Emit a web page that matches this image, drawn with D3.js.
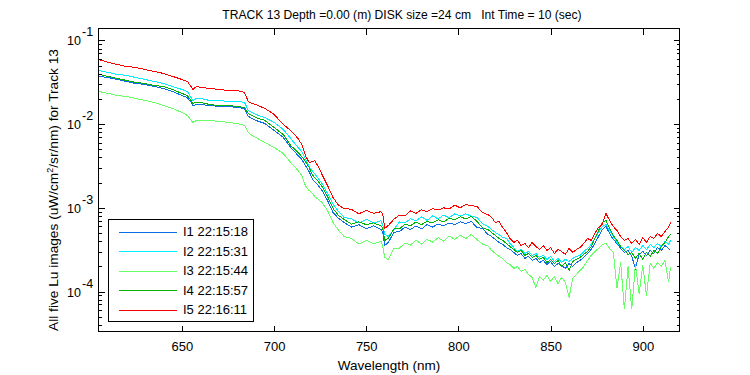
<!DOCTYPE html>
<html><head><meta charset="utf-8">
<script src="https://cdn.jsdelivr.net/npm/d3@7"></script>
<style>body{margin:0;background:#fff}svg text{font-family:"Liberation Sans",Arial,sans-serif;fill:#000}</style>
</head><body>
<script>
const wavelengths = [605,610,615,620,625,630,635,640,645,650,653,655,656,658,660,665,670,675,680,684,686,688,690,695,700,705,709,713,715,717,719,721,722,724,726,729,732,735,738,742,746,750,754,758,759,760,762,765,768,771,774,777,780,783,786,789,792,795,798,801,804,807,810,813,816,818,820,822,824,826,828,830,832,834,836,838,840,842,844,846,848,850,852,854,856,858,860,862,864,866,868,870,872,874,876,878,880,882,884,886,888,890,892,894,896,898,900,902,904,906,908,910,912,914,915];

const I1 = [3.72e-2,3.61e-2,3.42e-2,3.24e-2,3.06e-2,2.98e-2,2.82e-2,2.67e-2,2.46e-2,2.20e-2,2.08e-2,1.82e-2,1.67e-2,1.72e-2,1.72e-2,1.67e-2,1.63e-2,1.63e-2,1.58e-2,1.54e-2,1.24e-2,1.17e-2,1.11e-2,1.02e-2,8.41e-3,6.94e-3,5.27e-3,4.23e-3,3.79e-3,3.21e-3,2.72e-3,2.18e-3,2.07e-3,1.85e-3,1.61e-3,1.23e-3,8.81e-4,7.47e-4,6.69e-4,5.9e-4,6.3e-4,5.6e-4,6.1e-4,5.5e-4,5.08e-4,3.55e-4,3.86e-4,5.1e-4,5.2e-4,5.9e-4,5.5e-4,6.1e-4,5.6e-4,6.3e-4,5.9e-4,6.4e-4,6.1e-4,6.6e-4,6.3e-4,6.8e-4,6.5e-4,6.9e-4,5.8e-4,5.7e-4,4.8e-4,4.55e-4,4.19e-4,3.86e-4,3.65e-4,3.36e-4,3.18e-4,2.93e-4,2.70e-4,2.85e-4,2.49e-4,2.63e-4,2.35e-4,2.49e-4,2.22e-4,2.35e-4,2.11e-4,2.29e-4,1.99e-4,2.16e-4,2.05e-4,1.89e-4,2.16e-4,1.99e-4,2.22e-4,2.35e-4,2.56e-4,2.85e-4,3.18e-4,3.76e-4,4.55e-4,5.52e-4,5.99e-4,4.94e-4,4.19e-4,3.76e-4,3.27e-4,2.93e-4,3.10e-4,2.63e-4,1.89e-4,2.78e-4,3.01e-4,2.70e-4,3.10e-4,2.85e-4,3.36e-4,3.10e-4,3.55e-4,3.27e-4,3.10e-4];

const I2 = [4.38e-2,4.15e-2,3.93e-2,3.82e-2,3.61e-2,3.42e-2,3.24e-2,3.06e-2,2.82e-2,2.60e-2,2.46e-2,2.08e-2,1.92e-2,2.03e-2,2.03e-2,1.92e-2,1.92e-2,1.87e-2,1.87e-2,1.82e-2,1.46e-2,1.38e-2,1.31e-2,1.20e-2,1.05e-2,8.64e-3,6.75e-3,5.27e-3,4.72e-3,3.89e-3,3.12e-3,2.72e-3,2.58e-3,2.24e-3,1.96e-3,1.49e-3,1.10e-3,9.06e-4,7.68e-4,7.4e-4,6.6e-4,7.3e-4,6.6e-4,7.0e-4,6.16e-4,4.81e-4,4.55e-4,5.5e-4,6.8e-4,6.6e-4,7.4e-4,7.0e-4,7.8e-4,7.1e-4,8.0e-4,7.4e-4,8.2e-4,7.6e-4,8.5e-4,8.0e-4,8.5e-4,7.9e-4,7.7e-4,6.5e-4,6.0e-4,5.52e-4,5.08e-4,4.81e-4,4.43e-4,4.31e-4,3.76e-4,3.36e-4,3.01e-4,3.18e-4,2.85e-4,3.01e-4,2.70e-4,2.85e-4,2.56e-4,2.70e-4,2.42e-4,2.63e-4,2.29e-4,2.49e-4,2.22e-4,2.42e-4,2.29e-4,2.49e-4,2.63e-4,2.70e-4,3.01e-4,3.27e-4,3.65e-4,4.31e-4,5.08e-4,5.99e-4,6.33e-4,5.37e-4,4.55e-4,3.86e-4,3.45e-4,3.18e-4,3.45e-4,2.93e-4,3.36e-4,3.10e-4,3.55e-4,3.18e-4,3.65e-4,3.36e-4,3.76e-4,3.45e-4,3.97e-4,3.65e-4,4.08e-4];

const I3 = [2.46e-2,2.33e-2,2.20e-2,2.14e-2,2.03e-2,1.92e-2,1.82e-2,1.67e-2,1.54e-2,1.38e-2,1.27e-2,1.11e-2,1.05e-2,1.11e-2,1.11e-2,1.11e-2,1.08e-2,1.05e-2,1.02e-2,9.65e-3,7.96e-3,7.33e-3,6.94e-3,6.04e-3,5.27e-3,4.47e-3,3.49e-3,2.80e-3,2.44e-3,1.85e-3,1.61e-3,1.49e-3,1.37e-3,1.26e-3,1.16e-3,9.31e-4,6.69e-4,5.37e-4,4.55e-4,4.3e-4,3.7e-4,4.1e-4,3.7e-4,4.0e-4,3.45e-4,2.56e-4,2.4e-4,3.3e-4,3.3e-4,3.8e-4,3.6e-4,4.1e-4,3.7e-4,4.2e-4,3.9e-4,4.4e-4,4.0e-4,4.6e-4,4.2e-4,4.7e-4,4.3e-4,4.8e-4,4.2e-4,3.7e-4,3.5e-4,3.10e-4,2.85e-4,2.63e-4,2.49e-4,2.22e-4,2.11e-4,1.89e-4,1.99e-4,1.74e-4,1.84e-4,1.60e-4,1.47e-4,1.12e-4,1.52e-4,1.36e-4,1.56e-4,1.32e-4,1.52e-4,1.25e-4,1.47e-4,1.29e-4,8.50e-5,1.43e-4,1.60e-4,1.79e-4,1.99e-4,2.35e-4,2.70e-4,3.01e-4,3.27e-4,3.65e-4,3.76e-4,3.27e-4,2.93e-4,1.09e-4,2.22e-4,6.11e-5,1.99e-4,6.11e-5,2.11e-4,9.48e-5,2.05e-4,8.98e-5,2.16e-4,1.89e-4,2.22e-4,1.99e-4,2.35e-4,1.29e-4,1.94e-4];

const I4 = [3.93e-2,3.72e-2,3.52e-2,3.33e-2,3.15e-2,3.06e-2,2.90e-2,2.82e-2,2.60e-2,2.33e-2,2.20e-2,1.92e-2,1.77e-2,1.82e-2,1.82e-2,1.72e-2,1.67e-2,1.67e-2,1.63e-2,1.58e-2,1.34e-2,1.27e-2,1.20e-2,1.11e-2,9.13e-3,7.53e-3,5.57e-3,4.59e-3,4.11e-3,3.58e-3,3.04e-3,2.44e-3,2.31e-3,2.07e-3,1.80e-3,1.37e-3,9.83e-4,8.11e-4,7.27e-4,6.4e-4,6.8e-4,6.3e-4,6.6e-4,6.1e-4,5.67e-4,4.08e-4,4.31e-4,5.6e-4,5.6e-4,6.4e-4,6.1e-4,6.8e-4,6.3e-4,6.9e-4,6.6e-4,7.2e-4,6.8e-4,7.5e-4,7.2e-4,7.8e-4,7.4e-4,7.9e-4,6.9e-4,5.8e-4,5.5e-4,5.08e-4,4.68e-4,4.31e-4,4.08e-4,3.76e-4,3.45e-4,3.18e-4,2.93e-4,3.10e-4,2.70e-4,2.85e-4,2.56e-4,2.70e-4,2.42e-4,2.56e-4,2.22e-4,2.42e-4,2.16e-4,2.35e-4,1.99e-4,2.22e-4,1.79e-4,2.29e-4,2.42e-4,2.56e-4,2.78e-4,3.01e-4,3.45e-4,4.31e-4,5.37e-4,6.69e-4,7.07e-4,5.67e-4,4.68e-4,4.08e-4,3.45e-4,3.10e-4,2.78e-4,2.93e-4,2.49e-4,2.85e-4,2.42e-4,2.93e-4,2.63e-4,3.10e-4,2.85e-4,3.45e-4,3.86e-4,4.55e-4,4.81e-4];

const I5 = [5.93e-2,5.46e-2,5.17e-2,4.89e-2,4.76e-2,4.50e-2,4.26e-2,4.04e-2,3.72e-2,3.42e-2,3.24e-2,2.82e-2,2.60e-2,2.82e-2,2.75e-2,2.67e-2,2.60e-2,2.53e-2,2.53e-2,2.39e-2,1.87e-2,1.77e-2,1.72e-2,1.54e-2,1.31e-2,9.92e-3,8.41e-3,6.75e-3,5.72e-3,4.23e-3,3.49e-3,3.58e-3,3.68e-3,3.12e-3,2.51e-3,1.85e-3,1.33e-3,1.07e-3,9.83e-4,9.6e-4,8.5e-4,9.3e-4,8.6e-4,9.0e-4,8.4e-4,5.67e-4,6.16e-4,7.3e-4,8.2e-4,8.0e-4,9.2e-4,8.6e-4,9.5e-4,9.0e-4,9.8e-4,9.4e-4,1.00e-3,9.7e-4,1.08e-3,1.00e-3,1.10e-3,1.06e-3,1.04e-3,8.8e-4,8.3e-4,7.68e-4,6.69e-4,6.88e-4,5.83e-4,5.08e-4,4.31e-4,3.86e-4,4.08e-4,3.55e-4,3.76e-4,3.36e-4,3.86e-4,3.45e-4,3.18e-4,3.55e-4,3.10e-4,3.36e-4,2.85e-4,3.18e-4,3.01e-4,2.78e-4,3.27e-4,2.93e-4,3.18e-4,3.36e-4,3.76e-4,4.31e-4,4.08e-4,4.94e-4,5.83e-4,6.33e-4,8.57e-4,7.07e-4,5.99e-4,5.37e-4,4.55e-4,4.08e-4,4.31e-4,3.76e-4,4.19e-4,3.65e-4,4.43e-4,3.86e-4,4.55e-4,4.31e-4,4.94e-4,4.55e-4,5.22e-4,5.83e-4,6.69e-4];

const seriesLabels = ["I1 22:15:18","I2 22:15:31","I3 22:15:44","I4 22:15:57","I5 22:16:11"];
const seriesColors = ["#0a6ee6","#00eeff","#66ff66","#00b400","#ff0000"];
const xTicks = [650,700,750,800,850,900];
const yTickExps = [-4,-3,-2,-1];
const titleText = "TRACK 13 Depth =0.00 (m) DISK size =24 cm   Int Time = 10 (sec)";

const series = [I1,I2,I3,I4,I5];
const W = 750, H = 375;
const L = 98.5, R = 679.5, T = 28.5, B = 331.5;

const svg = d3.select("body").append("svg").attr("width", W).attr("height", H);
svg.append("rect").attr("width", W).attr("height", H).attr("fill", "#fff");

const x = d3.scaleLinear().domain([604.8, 919.9]).range([L, R]);
const y = d3.scaleLog().domain([3.33e-5, 0.139]).range([B, T]);

svg.append("clipPath").attr("id", "c").append("rect")
  .attr("x", L).attr("y", T).attr("width", R - L).attr("height", B - T);
const line = d3.line().x((d, i) => x(wavelengths[i])).y(d => y(d));
const gLines = svg.append("g").attr("clip-path", "url(#c)");
series.forEach((s, k) => {
  gLines.append("path").datum(s).attr("d", line)
    .attr("fill", "none").attr("stroke", seriesColors[k]).attr("stroke-width", 1)
    .attr("shape-rendering", "crispEdges");
});

svg.append("rect").attr("x", L).attr("y", T).attr("width", R - L).attr("height", B - T)
  .attr("fill", "none").attr("stroke", "#000").attr("stroke-width", 1).attr("shape-rendering", "crispEdges");

const xb = svg.append("g").attr("transform", `translate(0,${B})`)
  .call(d3.axisBottom(x).tickValues(xTicks).tickSizeInner(-6).tickSizeOuter(0).tickPadding(10).tickFormat(d3.format("d")));
const xt = svg.append("g").attr("transform", `translate(0,${T})`)
  .call(d3.axisTop(x).tickValues(xTicks).tickSizeInner(-6).tickSizeOuter(0).tickFormat(""));
[xb, xt].forEach(g => {
  g.select(".domain").remove();
  g.selectAll("line").attr("shape-rendering", "crispEdges");
  g.selectAll("text").attr("font-size", 13).attr("font-family", "Liberation Sans, Arial, sans-serif");
});

const majors = yTickExps.map(e => Math.pow(10, e));
const minors = [];
[-5, -4, -3, -2, -1].forEach(e => { for (let m = 2; m <= 9; m++) { const v = m * Math.pow(10, e); if (v > y.domain()[0] && v < y.domain()[1]) minors.push(v); } });
const yl = svg.append("g").attr("transform", `translate(${L},0)`)
  .call(d3.axisLeft(y).tickValues(majors).tickSizeInner(-6).tickSizeOuter(0).tickFormat(""));
const yr = svg.append("g").attr("transform", `translate(${R},0)`)
  .call(d3.axisRight(y).tickValues(majors).tickSizeInner(-6).tickSizeOuter(0).tickFormat(""));
const ylm = svg.append("g").attr("transform", `translate(${L},0)`)
  .call(d3.axisLeft(y).tickValues(minors).tickSizeInner(-3).tickSizeOuter(0).tickFormat(""));
const yrm = svg.append("g").attr("transform", `translate(${R},0)`)
  .call(d3.axisRight(y).tickValues(minors).tickSizeInner(-3).tickSizeOuter(0).tickFormat(""));
[yl, yr, ylm, yrm].forEach(g => { g.select(".domain").remove(); g.selectAll("line").attr("shape-rendering", "crispEdges"); });

yTickExps.forEach(e => {
  const yy = y(Math.pow(10, e));
  svg.append("text").attr("x", 81).attr("y", yy + 5).attr("text-anchor", "end").attr("font-size", 12.5).text("10");
  svg.append("text").attr("x", 82).attr("y", yy - 4).attr("font-size", 12.5).text(String(e));
});

svg.append("text").attr("x", 402).attr("y", 19).attr("text-anchor", "middle").attr("font-size", 12.1)
  .style("white-space", "pre").text(titleText);

svg.append("text").attr("x", (L + R) / 2).attr("y", 370).attr("text-anchor", "middle").attr("font-size", 13.5).text("Wavelength (nm)");

const ylab = svg.append("text").attr("transform", `translate(58,190) rotate(-90)`)
  .attr("text-anchor", "middle").attr("font-size", 13.7);
ylab.append("tspan").text("All five Lu images (uW/cm");
ylab.append("tspan").attr("dy", -5).attr("font-size", 9).text("2");
ylab.append("tspan").attr("dy", 5).text("/sr/nm) for Track 13");

const lg = svg.append("g");
lg.append("rect").attr("x", 108.5).attr("y", 219.5).attr("width", 145).attr("height", 102)
  .attr("fill", "#fff").attr("stroke", "#000").attr("shape-rendering", "crispEdges");
seriesLabels.forEach((lab, i) => {
  const yy = 231.5 + i * 19.5;
  lg.append("line").attr("x1", 119).attr("x2", 177).attr("y1", Math.round(yy) + 0.5).attr("y2", Math.round(yy) + 0.5)
    .attr("stroke", seriesColors[i]).attr("stroke-width", 1).attr("shape-rendering", "crispEdges");
  lg.append("text").attr("x", 183).attr("y", yy + 4.5).attr("font-size", 13).text(lab);
});
</script>
</body></html>
